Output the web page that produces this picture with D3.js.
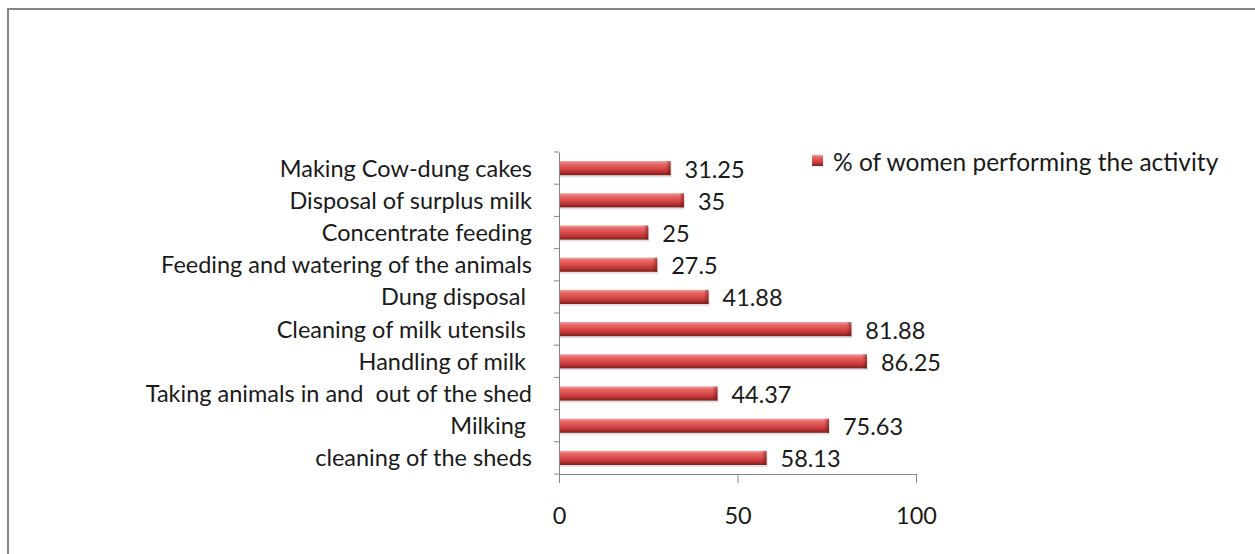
<!DOCTYPE html>
<html><head><meta charset="utf-8">
<script src="https://cdn.jsdelivr.net/npm/d3@7"></script>
<style>
html,body{margin:0;padding:0;background:#fff;}
text{font-family:Lato,"Open Sans",sans-serif;fill:#1a1a1a;white-space:pre;}
</style></head><body>
<svg id="c" width="1255" height="554"></svg>
<script>
const categories = ["Making Cow-dung cakes","Disposal of surplus milk","Concentrate feeding","Feeding and watering of the animals","Dung disposal ","Cleaning of milk utensils ","Handling of milk ","Taking animals in and  out of the shed","Milking ","cleaning of the sheds"];
const values = [31.25,35,25,27.5,41.88,81.88,86.25,44.37,75.63,58.13];
const valueLabels = ["31.25","35","25","27.5","41.88","81.88","86.25","44.37","75.63","58.13"];
const xTicks = [0,50,100];
const seriesName = "% of women performing the activity";

const FS = 23.5;
const svg = d3.select("#c");
svg.append("rect").attr("x",8).attr("y",9).attr("width",1270).attr("height",570)
  .attr("fill","#fff").attr("stroke","#868686").attr("stroke-width",2);

const defs = svg.append("defs");
const g = defs.append("linearGradient").attr("id","bar").attr("x1",0).attr("y1",0).attr("x2",0).attr("y2",1);
[[0,"#f4a0a0"],[0.2,"#e86868"],[0.5,"#d84c4c"],[0.78,"#b83232"],[1,"#7c1c1c"]].forEach(s=>g.append("stop").attr("offset",s[0]).attr("stop-color",s[1]));
const ge = defs.append("linearGradient").attr("id","endcap").attr("x1",0).attr("y1",0).attr("x2",1).attr("y2",0);
[[0,"rgba(120,20,20,0)"],[1,"rgba(100,15,15,0.55)"]].forEach(s=>ge.append("stop").attr("offset",s[0]).attr("stop-color",s[1]));

const x = d3.scaleLinear().domain([0,100]).range([559,916]);
const y = d3.scaleBand().domain(categories).range([152,474]).paddingInner(0.56).paddingOuter(0.28);

// bars
const bars = svg.append("g");
categories.forEach((c,i)=>{
  const yy = y(c), h = y.bandwidth(), x0 = x(0), x1 = x(values[i]);
  bars.append("rect").attr("x",x0+1).attr("y",yy+2).attr("width",x1-x0).attr("height",h).attr("fill","rgba(0,0,0,0.12)");
  bars.append("rect").attr("x",x0).attr("y",yy).attr("width",x1-x0).attr("height",h).attr("fill","url(#bar)");
  bars.append("rect").attr("x",x1-5).attr("y",yy).attr("width",5).attr("height",h).attr("fill","url(#endcap)");
  svg.append("text").attr("x",x1+14).attr("y",yy+h/2+1).attr("dy","0.36em").attr("font-size",FS).text(valueLabels[i]);
});

// y axis
const yAxis = d3.axisLeft(y).tickSize(0).tickPadding(27);
const ya = svg.append("g").attr("transform","translate(559,0)").call(yAxis);
ya.select(".domain").attr("stroke","#868686");
ya.selectAll("text").attr("font-size",FS).style("font-family","Lato,sans-serif").attr("fill","#1a1a1a").attr("dy","0.36em");
// category boundary ticks
const bounds = d3.range(categories.length+1).map(i=>152+i*(474-152)/categories.length);
svg.append("g").selectAll("line").data(bounds).join("line")
  .attr("x1",554).attr("x2",559).attr("y1",d=>d).attr("y2",d=>d).attr("stroke","#868686");

// x axis
const xAxis = d3.axisBottom(x).tickValues(xTicks).tickSize(9).tickPadding(24).tickSizeOuter(0);
const xa = svg.append("g").attr("transform","translate(0,474)").call(xAxis);
xa.select(".domain").attr("stroke","#868686");
xa.selectAll("line").attr("stroke","#868686");
xa.selectAll("text").attr("font-size",FS).style("font-family","Lato,sans-serif").attr("fill","#1a1a1a");

// legend
const lg = svg.append("g");
lg.append("rect").attr("x",812).attr("y",155).attr("width",11).attr("height",11).attr("fill","url(#bar)");
lg.append("text").attr("x",833).attr("y",162).attr("dy","0.36em").attr("font-size",FS+1).text(seriesName);
</script>
</body></html>
